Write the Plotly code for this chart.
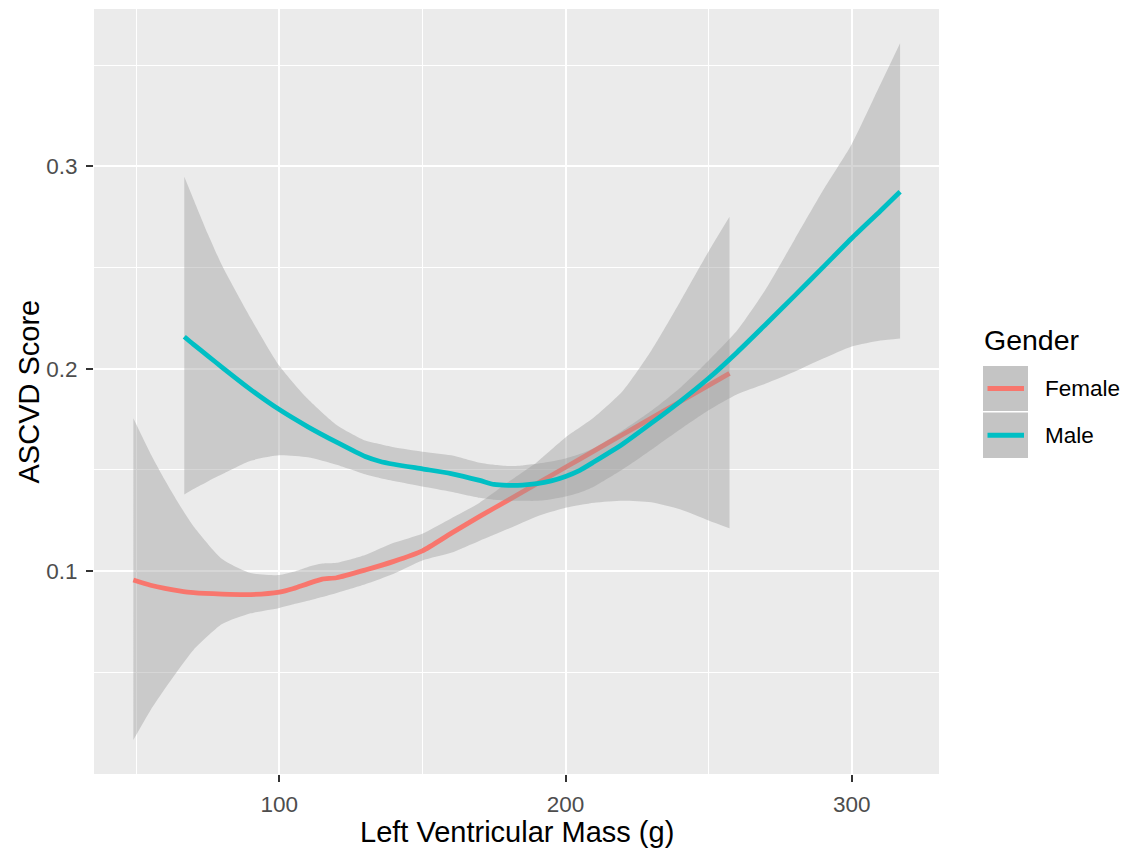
import plotly.graph_objects as go

# ---------------- data ----------------
female_x = [49, 55, 60, 65, 70, 80, 90, 100, 105, 110, 115, 120, 130, 140, 150,
            160, 170, 180, 190, 200, 210, 220, 230, 240, 250, 257.3]
female_fit = [0.0956, 0.0930, 0.0914, 0.0902, 0.0893, 0.0886, 0.0884, 0.0896, 0.0914,
              0.0938, 0.0960, 0.0967, 0.1005, 0.1048, 0.1100, 0.1186, 0.1270, 0.1351,
              0.1432, 0.1513, 0.1594, 0.1675, 0.1756, 0.1837, 0.1918, 0.1977]
female_upper = [0.1755, 0.1580, 0.1450, 0.1330, 0.1222, 0.1060, 0.0990, 0.0980, 0.0996,
                0.1020, 0.1037, 0.1041, 0.1080, 0.1140, 0.1185, 0.1260, 0.1338, 0.1440,
                0.1538, 0.1660, 0.1760, 0.1890, 0.2090, 0.2330, 0.2580, 0.2751]
female_lower = [0.0165, 0.0312, 0.0418, 0.0517, 0.0610, 0.0738, 0.0791, 0.0818, 0.0836,
                0.0853, 0.0872, 0.0892, 0.0935, 0.0987, 0.1052, 0.1090, 0.1150, 0.1209,
                0.1270, 0.1313, 0.1338, 0.1348, 0.1340, 0.1305, 0.1250, 0.1211]

male_x = [66.8, 70, 75, 80, 90, 100, 110, 120, 130, 135, 140, 150, 160, 170, 175, 180,
          185, 190, 195, 200, 205, 210, 220, 230, 240, 250, 260, 270, 280, 290, 300,
          310, 316.9]
male_fit = [0.2158, 0.2120, 0.2064, 0.2007, 0.1897, 0.1798, 0.1713, 0.1637, 0.1566,
            0.1543, 0.1528, 0.1505, 0.1482, 0.1448, 0.1428, 0.1424, 0.1425, 0.1432,
            0.1446, 0.1468, 0.1498, 0.1540, 0.1628, 0.1731, 0.1838, 0.1953, 0.2082,
            0.2220, 0.2360, 0.2502, 0.2645, 0.2780, 0.2875]
male_upper = [0.2949, 0.2838, 0.2667, 0.2510, 0.2250, 0.2015, 0.1850, 0.1722, 0.1645,
              0.1628, 0.1612, 0.1590, 0.1572, 0.1535, 0.1525, 0.1519, 0.1522, 0.1530,
              0.1541, 0.1556, 0.1578, 0.1608, 0.1695, 0.1792, 0.1905, 0.2041, 0.2190,
              0.2394, 0.2638, 0.2882, 0.3110, 0.3405, 0.3609]
male_lower = [0.1379, 0.1405, 0.1443, 0.1478, 0.1545, 0.1572, 0.1562, 0.1525, 0.1478,
              0.1460, 0.1445, 0.1418, 0.1392, 0.1362, 0.1353, 0.1348, 0.1347, 0.1347,
              0.1355, 0.1368, 0.1388, 0.1418, 0.1503, 0.1600, 0.1700, 0.1795, 0.1874,
              0.1927, 0.1985, 0.2050, 0.2110, 0.2140, 0.2150]

groups = ["Female", "Male"]
colors = {"Female": "#F8766D", "Male": "#00BFC4"}
x_ticks = [100, 200, 300]
y_ticks = [0.1, 0.2, 0.3]
y_tick_labels = ["0.1", "0.2", "0.3"]

RIBBON = "rgba(153,153,153,0.4)"
FONT = "Liberation Sans, Arial, Helvetica, sans-serif"
SMOOTH = 0.6

data = {
    "Female": (female_x, female_fit, female_upper, female_lower),
    "Male": (male_x, male_fit, male_upper, male_lower),
}

fig = go.Figure()
for g in groups:
    xs, fit, up, lo = data[g]
    fig.add_trace(go.Scatter(
        x=xs, y=lo, mode="lines",
        line=dict(width=0, shape="spline", smoothing=SMOOTH),
        hoverinfo="skip", showlegend=False,
    ))
    fig.add_trace(go.Scatter(
        x=xs, y=up, mode="lines", fill="tonexty", fillcolor=RIBBON,
        line=dict(width=0, shape="spline", smoothing=SMOOTH),
        hoverinfo="skip", showlegend=False,
    ))
    fig.add_trace(go.Scatter(
        x=xs, y=fit, mode="lines", name=g,
        line=dict(color=colors[g], width=4.8, shape="spline", smoothing=SMOOTH),
        showlegend=False,
    ))

fig.update_layout(
    width=1128, height=851,
    margin=dict(l=94, r=189, t=9, b=77),
    paper_bgcolor="white", plot_bgcolor="#EBEBEB",
    font=dict(family=FONT),
    showlegend=False,
)
fig.update_xaxes(
    range=[35.25, 330.5], tickvals=x_ticks, ticktext=[str(v) for v in x_ticks],
    showgrid=True, gridcolor="white", gridwidth=2.2,
    minor=dict(dtick=50, tick0=0, showgrid=True, gridcolor="white", gridwidth=1.1, ticks=""),
    ticks="outside", ticklen=7, tickwidth=2, tickcolor="#333333",
    tickfont=dict(size=22.5, color="#4D4D4D", family=FONT),
    zeroline=False, showline=False, ticklabelstandoff=3,
)
fig.update_yaxes(
    range=[-0.0003, 0.3778], tickvals=y_ticks, ticktext=y_tick_labels,
    showgrid=True, gridcolor="white", gridwidth=2.2,
    minor=dict(dtick=0.05, tick0=0, showgrid=True, gridcolor="white", gridwidth=1.1, ticks=""),
    ticks="outside", ticklen=7, tickwidth=2, tickcolor="#333333",
    tickfont=dict(size=22.5, color="#4D4D4D", family=FONT),
    zeroline=False, showline=False, ticklabelstandoff=4,
)

# axis titles
fig.add_annotation(text="Left Ventricular Mass (g)", xref="paper", yref="paper",
                   x=0.5, y=0, yshift=-58, xanchor="center", yanchor="middle",
                   showarrow=False, font=dict(size=29, color="black", family=FONT))
fig.add_annotation(text="ASCVD Score", xref="paper", yref="paper",
                   x=0, y=0.5, xshift=-66, xanchor="center", yanchor="middle", textangle=-90,
                   showarrow=False, font=dict(size=29, color="black", family=FONT))

# legend (drawn in pixel-based paper coords)
L, R, T, B = 94, 939, 9, 774
def px(xp):
    return (xp - L) / (R - L)
def py(yp):
    return (B - yp) / (B - T)

fig.add_annotation(text="Gender", xref="paper", yref="paper", x=px(982), y=py(340),
                   xanchor="left", yanchor="middle", showarrow=False,
                   font=dict(size=28.5, color="black", family=FONT))
key_rows = [(366, 411), (412.5, 458)]
for g, (top, bot) in zip(groups, key_rows):
    fig.add_shape(type="rect", xref="paper", yref="paper",
                  x0=px(983), x1=px(1028), y0=py(bot), y1=py(top),
                  fillcolor="#C4C4C4", line=dict(width=0), layer="above")
    yc = (top + bot) / 2
    fig.add_shape(type="line", xref="paper", yref="paper",
                  x0=px(987.5), x1=px(1024), y0=py(yc), y1=py(yc),
                  line=dict(color=colors[g], width=4.8), layer="above")
    fig.add_annotation(text=g, xref="paper", yref="paper", x=px(1043), y=py(yc),
                       xanchor="left", yanchor="middle", showarrow=False,
                       font=dict(size=22.5, color="black", family=FONT))

fig.write_html("out.html", config={"displayModeBar": False},
               post_script="document.body.style.margin='0';document.body.style.overflow='hidden';")
